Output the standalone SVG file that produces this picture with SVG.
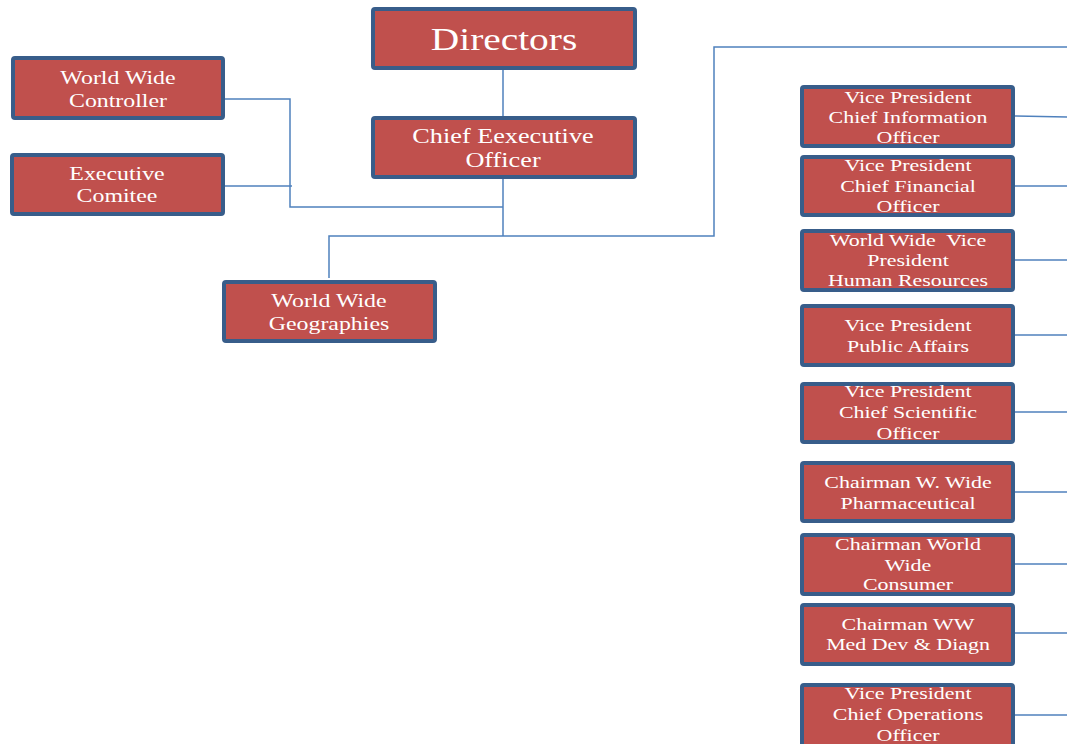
<svg xmlns="http://www.w3.org/2000/svg" width="1067" height="744" viewBox="0 0 1067 744">
  <style>
    .box { fill: #C0504D; stroke: #385D8A; stroke-width: 4; }
    .lbl { font-family: "Liberation Serif", "Times New Roman", serif; fill: #FFFFFF; text-anchor: middle; }
    .big { font-size: 31px; }
    .mid { font-size: 20.5px; }
    .sm { font-size: 18.5px; }
    .xs { font-size: 17px; }
    .conn { fill: none; stroke: #4F81BD; stroke-width: 1.5; }
  </style>
  <rect width="1067" height="744" fill="#FFFFFF"/>

  <g id="connectors">
    <path class="conn" d="M503 70 V116"/>
    <path class="conn" d="M503 179 V236"/>
    <path class="conn" d="M225 99 H290 V207 H503"/>
    <path class="conn" d="M225 186 H292"/>
    <path class="conn" d="M329 278 V236 H714 V47 H1067"/>
    <path class="conn" d="M1015 116 L1067 117"/>
    <path class="conn" d="M1015 186 H1067"/>
    <path class="conn" d="M1015 260 H1067"/>
    <path class="conn" d="M1015 335 H1067"/>
    <path class="conn" d="M1015 412 H1067"/>
    <path class="conn" d="M1015 492 H1067"/>
    <path class="conn" d="M1015 564 H1067"/>
    <path class="conn" d="M1015 633 H1067"/>
    <path class="conn" d="M1015 715 H1067"/>
  </g>

  <!-- labels use a widened serif: each label block is scaled horizontally about its centre -->
  <g id="directors">
    <rect class="box" x="373" y="9" width="262" height="59" rx="2"/>
    <g transform="translate(504 0) scale(1.27 1)">
      <text class="lbl big" x="0" y="50">Directors</text>
    </g>
  </g>
  <g id="ceo">
    <rect class="box" x="373" y="118" width="262" height="59" rx="2"/>
    <g transform="translate(503 0) scale(1.28 1)">
      <text class="lbl mid" x="0" y="143">Chief Eexecutive</text>
      <text class="lbl mid" x="0" y="167">Officer</text>
    </g>
  </g>
  <g id="ww-controller">
    <rect class="box" x="13" y="58" width="210" height="60" rx="2"/>
    <g transform="translate(118 0) scale(1.29 1)">
      <text class="lbl sm" x="0" y="84">World Wide</text>
      <text class="lbl sm" x="0" y="107">Controller</text>
    </g>
  </g>
  <g id="exec-comitee">
    <rect class="box" x="12" y="155" width="211" height="59" rx="2"/>
    <g transform="translate(117 0) scale(1.29 1)">
      <text class="lbl sm" x="0" y="180">Executive</text>
      <text class="lbl sm" x="0" y="202">Comitee</text>
    </g>
  </g>
  <g id="ww-geographies">
    <rect class="box" x="224" y="282" width="211" height="59" rx="2"/>
    <g transform="translate(329 0) scale(1.29 1)">
      <text class="lbl sm" x="0" y="307">World Wide</text>
      <text class="lbl sm" x="0" y="330">Geographies</text>
    </g>
  </g>

  <g id="vp-cio">
    <rect class="box" x="802" y="87" width="211" height="59" rx="2"/>
    <g transform="translate(908 0) scale(1.29 1)">
      <text class="lbl xs" x="0" y="103">Vice President</text>
      <text class="lbl xs" x="0" y="123">Chief Information</text>
      <text class="lbl xs" x="0" y="143">Officer</text>
    </g>
  </g>
  <g id="vp-cfo">
    <rect class="box" x="802" y="157" width="211" height="58" rx="2"/>
    <g transform="translate(908 0) scale(1.29 1)">
      <text class="lbl xs" x="0" y="171">Vice President</text>
      <text class="lbl xs" x="0" y="192">Chief Financial</text>
      <text class="lbl xs" x="0" y="212">Officer</text>
    </g>
  </g>
  <g id="vp-hr">
    <rect class="box" x="802" y="231" width="211" height="59" rx="2"/>
    <g transform="translate(908 0) scale(1.29 1)">
      <text class="lbl xs" x="0" y="246" xml:space="preserve">World Wide  Vice</text>
      <text class="lbl xs" x="0" y="266">President</text>
      <text class="lbl xs" x="0" y="286">Human Resources</text>
    </g>
  </g>
  <g id="vp-public-affairs">
    <rect class="box" x="802" y="306" width="211" height="59" rx="2"/>
    <g transform="translate(908 0) scale(1.29 1)">
      <text class="lbl xs" x="0" y="331">Vice President</text>
      <text class="lbl xs" x="0" y="352">Public Affairs</text>
    </g>
  </g>
  <g id="vp-cso">
    <rect class="box" x="802" y="384" width="211" height="58" rx="2"/>
    <g transform="translate(908 0) scale(1.29 1)">
      <text class="lbl xs" x="0" y="397">Vice President</text>
      <text class="lbl xs" x="0" y="418">Chief Scientific</text>
      <text class="lbl xs" x="0" y="439">Officer</text>
    </g>
  </g>
  <g id="chair-pharma">
    <rect class="box" x="802" y="463" width="211" height="58" rx="2"/>
    <g transform="translate(908 0) scale(1.29 1)">
      <text class="lbl xs" x="0" y="488">Chairman W. Wide</text>
      <text class="lbl xs" x="0" y="509">Pharmaceutical</text>
    </g>
  </g>
  <g id="chair-consumer">
    <rect class="box" x="802" y="535" width="211" height="59" rx="2"/>
    <g transform="translate(908 0) scale(1.29 1)">
      <text class="lbl xs" x="0" y="550">Chairman World</text>
      <text class="lbl xs" x="0" y="571">Wide</text>
      <text class="lbl xs" x="0" y="590">Consumer</text>
    </g>
  </g>
  <g id="chair-meddev">
    <rect class="box" x="802" y="605" width="211" height="59" rx="2"/>
    <g transform="translate(908 0) scale(1.29 1)">
      <text class="lbl xs" x="0" y="630">Chairman WW</text>
      <text class="lbl xs" x="0" y="650">Med Dev &amp; Diagn</text>
    </g>
  </g>
  <g id="vp-coo">
    <rect class="box" x="802" y="685" width="211" height="62" rx="2"/>
    <g transform="translate(908 0) scale(1.29 1)">
      <text class="lbl xs" x="0" y="699">Vice President</text>
      <text class="lbl xs" x="0" y="720">Chief Operations</text>
      <text class="lbl xs" x="0" y="741">Officer</text>
    </g>
  </g>
</svg>
